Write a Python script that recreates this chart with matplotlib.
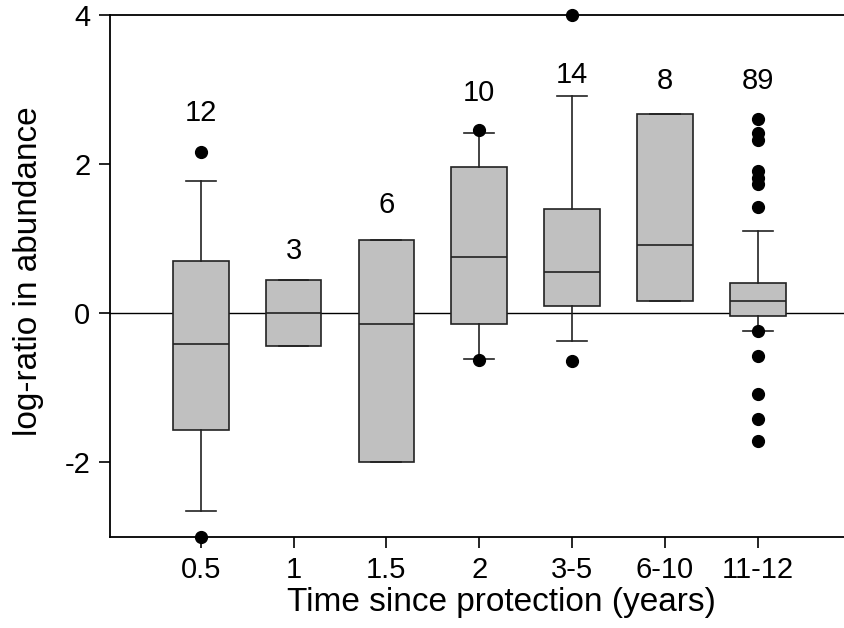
import matplotlib
matplotlib.use('Agg')
import matplotlib.pyplot as plt

plt.rcParams['font.family'] = ['Liberation Sans', 'DejaVu Sans']
plt.rcParams['axes.unicode_minus'] = False

# dados
grupos = ['0.5', '1', '1.5', '2', '3-5', '6-10', '11-12']
n_amostras = [12, 3, 6, 10, 14, 8, 89]
q1 = [-1.57, -0.44, -1.99, -0.15, 0.10, 0.16, -0.04]
mediana = [-0.41, 0.0, -0.15, 0.75, 0.56, 0.91, 0.17]
q3 = [0.70, 0.44, 0.98, 1.96, 1.40, 2.67, 0.41]
whis_baixo = [-2.65, -0.44, -1.99, -0.61, -0.37, 0.16, -0.24]
whis_alto = [1.78, 0.44, 0.98, 2.42, 2.91, 2.67, 1.10]
outliers = [
    [2.17, -3.0],
    [],
    [],
    [2.46, -0.63],
    [4.0, -0.64],
    [],
    [2.60, 2.42, 2.33, 1.91, 1.82, 1.73, 1.42,
     -0.24, -0.57, -1.08, -1.42, -1.71],
]
# altura dos rotulos de n
n_y = [2.69, 0.83, 1.45, 2.96, 3.19, 3.12, 3.12]

stats = []
for i in range(len(grupos)):
    stats.append({
        'label': grupos[i],
        'q1': q1[i], 'med': mediana[i], 'q3': q3[i],
        'whislo': whis_baixo[i], 'whishi': whis_alto[i],
        'fliers': outliers[i],
    })

fig = plt.figure(figsize=(8.44, 6.28), dpi=100)
ax = fig.add_axes([0.130, 0.145, 0.870, 0.831])

ax.axhline(0, color='black', linewidth=1.0, zorder=1)

pos = list(range(1, len(grupos) + 1))
ax.bxp(stats, positions=pos, widths=0.6, patch_artist=True,
       showcaps=True, capwidths=0.32,
       boxprops=dict(facecolor='#c0c0c0', edgecolor='#222222', linewidth=1.2),
       medianprops=dict(color='#222222', linewidth=1.2),
       whiskerprops=dict(color='#222222', linewidth=1.2),
       capprops=dict(color='#222222', linewidth=1.2),
       flierprops=dict(marker='o', markerfacecolor='black', markeredgecolor='black',
                       markersize=8.5, linestyle='none'),
       manage_ticks=False, zorder=3)

for i in range(len(grupos)):
    ax.text(pos[i], n_y[i], str(n_amostras[i]), ha='center', va='center', fontsize=21)

ax.set_xlim(0.02, 7.93)
ax.set_ylim(-3, 4)
ax.set_xticks(pos)
ax.set_xticklabels(grupos)
ax.set_yticks([-2, 0, 2, 4])
ax.tick_params(axis='both', labelsize=21, length=8, width=1.2, direction='out')
ax.tick_params(axis='y', pad=6)
ax.tick_params(axis='x', pad=6)

ax.spines['right'].set_visible(False)
for s in ['left', 'top', 'bottom']:
    ax.spines[s].set_linewidth(1.3)

ax.set_xlabel('Time since protection (years)', fontsize=24)
ax.set_ylabel('log-ratio in abundance', fontsize=24)
ax.xaxis.set_label_coords(0.534, -0.096)
ax.yaxis.set_label_coords(-0.089, 0.51)

for item in ax.get_children():
    try:
        item.set_clip_on(False)
    except Exception:
        pass

plt.savefig('out.png', dpi=100)
